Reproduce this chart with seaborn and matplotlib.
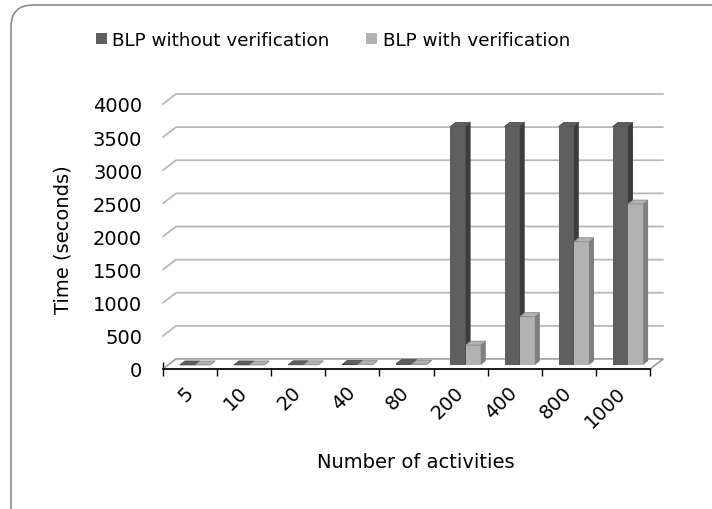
import matplotlib
matplotlib.use("Agg")
import matplotlib.pyplot as plt
import seaborn as sns
import pandas as pd
from matplotlib.patches import Patch, Polygon, PathPatch
from matplotlib.lines import Line2D
from matplotlib.path import Path
from matplotlib.transforms import ScaledTranslation, IdentityTransform

# data
activities = ["5", "10", "20", "40", "80", "200", "400", "800", "1000"]
without_verif = [0.5, 1, 3, 8, 20, 3600, 3600, 3600, 3600]
with_verif = [0.4, 0.8, 2, 5, 12, 300, 730, 1860, 2430]
series_names = ["BLP without verification", "BLP with verification"]
y_ticks = [0, 500, 1000, 1500, 2000, 2500, 3000, 3500, 4000]

DARK, DARK_SIDE = "#5f5f5f", "#3c3c3c"
LIGHT, LIGHT_SIDE = "#b2b2b2", "#7f7f7f"
GRID = "#b8b8b8"

df = pd.DataFrame({
    "activities": activities * 2,
    "time": without_verif + with_verif,
    "method": [series_names[0]] * len(activities) + [series_names[1]] * len(activities),
})

sns.set_theme(style="white", rc={"text.color": "black", "axes.labelcolor": "black",
                                 "xtick.color": "black", "ytick.color": "black"})
plt.rcParams["font.family"] = ["DejaVu Sans"]

W, H = 712, 510
fig = plt.figure(figsize=(W / 100, H / 100), dpi=100)
# front plane of the pseudo-3d plot: x 163..650 px, y 370 (0) .. 105 (4000) px from top
ax = fig.add_axes([163 / W, (H - 370) / H, 487 / W, 265 / H])
ax.set_facecolor("none")

sns.barplot(data=df, x="activities", y="time", hue="method", order=activities,
            hue_order=series_names, palette=[DARK, LIGHT], saturation=1,
            width=0.56, legend=False, ax=ax, linewidth=0)
ax.set_xlim(-0.5, len(activities) - 0.5)
ax.set_ylim(0, 4000)

DX, DY = 13, 10      # depth of the floor / back wall in px
BX, BY = 5, 4        # bar depth in px


def px(xd, yd, dx=0, dy=0):
    """data point + pixel offset -> figure fraction"""
    x, y = ax.transData.transform((xd, yd))
    return ((x + dx) / W, (y + dy) / H)


# back wall grid lines and side diagonals
x0, x1 = ax.get_xlim()
for v in y_ticks:
    pts = [px(x0, v), px(x0, v, DX, DY), px(x1, v, DX, DY)]
    if v == 0:
        pts = pts + [px(x1, v)]
    ax.add_line(Line2D([p[0] for p in pts], [p[1] for p in pts], transform=fig.transFigure,
                       color=GRID, lw=1.3, zorder=0.5, clip_on=False))

floor = Polygon([px(x0, 0), px(x1, 0), px(x1, 0, DX, DY), px(x0, 0, DX, DY)],
                closed=True, transform=fig.transFigure, facecolor="white",
                edgecolor="#999999", lw=1.0, zorder=0.6, clip_on=False)
ax.add_patch(floor)

# give each bar a depth offset plus side and top faces
n = len(activities)
bars = [p for p in ax.patches if p is not floor]
for i, bar in enumerate(bars):
    z = 3 if i < n else 4
    side_col = DARK_SIDE if i < n else LIGHT_SIDE
    front_col = bar.get_facecolor()
    bx, bw, bh = bar.get_x(), bar.get_width(), bar.get_height()
    bar.set_transform(ax.transData + ScaledTranslation(BX / 100, BY / 100, fig.dpi_scale_trans))
    bar.set_zorder(z)
    side = [px(bx + bw, 0, BX, BY), px(bx + bw, 0, 2 * BX, 2 * BY),
            px(bx + bw, bh, 2 * BX, 2 * BY), px(bx + bw, bh, BX, BY)]
    top = [px(bx, bh, BX, BY), px(bx + bw, bh, BX, BY),
           px(bx + bw, bh, 2 * BX, 2 * BY), px(bx, bh, 2 * BX, 2 * BY)]
    ax.add_patch(Polygon(side, closed=True, transform=fig.transFigure, facecolor=side_col,
                         edgecolor="none", zorder=z, clip_on=False))
    ax.add_patch(Polygon(top, closed=True, transform=fig.transFigure, facecolor=front_col,
                         edgecolor=side_col, lw=0.5, zorder=z, clip_on=False))

# axes styling
for s in ["left", "right", "top"]:
    ax.spines[s].set_visible(False)
ax.spines["bottom"].set_color("black")
ax.spines["bottom"].set_linewidth(1.2)
ax.spines["bottom"].set_zorder(5)
ax.set_yticks(y_ticks)
ax.set_yticklabels([str(v) for v in y_ticks])
ax.tick_params(axis="y", length=0, pad=15, labelsize=14, colors="black")
ax.set_xticks(range(n))
ax.set_xticklabels(activities)
ax.set_xticks([i - 0.5 for i in range(n + 1)], minor=True)
ax.tick_params(axis="x", which="major", direction="inout", length=7, width=1,
               colors="black", labelsize=14, pad=11)
ax.tick_params(axis="x", which="minor", direction="inout", length=10, width=1,
               colors="black", bottom=True)
for lab in ax.get_xticklabels():
    lab.set_rotation(45)
    lab.set_ha("right")
    lab.set_va("center")
    lab.set_rotation_mode("anchor")
ax.set_xlabel("")
ax.set_ylabel("")
ax.grid(False)

fig.text(416 / W, 1 - 463 / H, "Number of activities", ha="center", va="center", fontsize=14)
fig.text(63 / W, 1 - 240 / H, "Time (seconds)", ha="center", va="center",
         rotation=90, fontsize=14)

handles = [Patch(facecolor=DARK, edgecolor="none"), Patch(facecolor=LIGHT, edgecolor="none")]
fig.legend(handles, series_names, loc="center", bbox_to_anchor=(333 / W, 1 - 41 / H),
           ncol=2, frameon=False, fontsize=13.2, handlelength=0.6, handleheight=0.6,
           handletextpad=0.3, columnspacing=2.0)

# rounded chart border: only the left and top edges lie inside the picture
r, bl, bt = 22, 11, H - 6
border = Path([(bl, -5), (bl, bt - r), (bl, bt), (bl + r, bt), (W + 5, bt)],
              [Path.MOVETO, Path.LINETO, Path.CURVE3, Path.CURVE3, Path.LINETO])
fig.add_artist(PathPatch(border, transform=IdentityTransform(), facecolor="none",
                         edgecolor="#8c8c8c", lw=1.2))

fig.savefig("out.png", dpi=100)
